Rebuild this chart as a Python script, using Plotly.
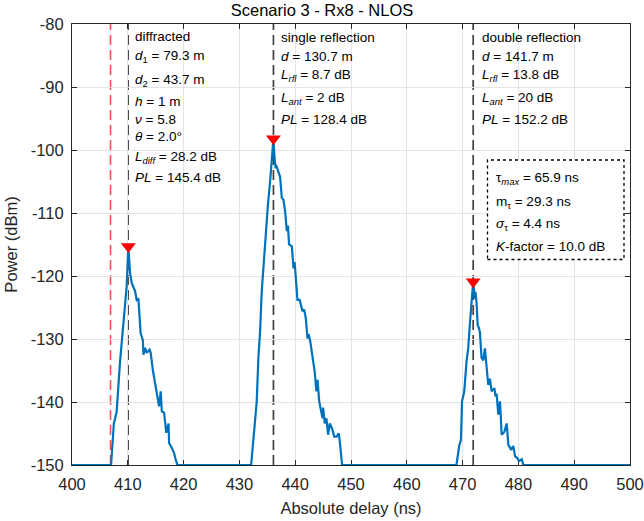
import plotly.graph_objects as go

# ---------------- data ----------------
delay_ns = [
    400.0, 407.0, 407.5, 408.0, 408.6, 409.2, 409.8, 410.1, 410.4, 410.7, 411.3, 411.6,
    411.9, 412.0, 412.3, 412.7, 412.8, 413.1, 413.4, 413.9, 414.1, 414.5, 414.9, 415.3,
    415.6, 415.9, 416.1, 416.5, 416.9, 417.3, 417.4, 417.9, 418.3, 418.5, 418.9,
    432.1, 432.7, 433.1, 433.4, 433.7, 434.0, 434.5, 434.7, 435.1, 435.5, 435.8, 436.1,
    436.3, 436.5, 436.6, 436.8, 437.3, 437.6, 437.9, 438.2, 438.5, 438.7, 438.9, 439.4,
    439.7, 439.9, 440.1, 440.4, 440.8, 441.3, 441.6, 441.9, 442.2, 442.4, 442.7, 443.0,
    443.2, 443.5, 443.8, 444.0, 444.3, 444.6, 444.9, 445.0, 445.3, 445.6, 445.9, 446.2,
    446.6, 447.0, 447.4, 447.8, 448.0, 448.4,
    468.9, 469.4, 469.7, 469.9, 470.3, 470.7, 471.0, 471.3, 471.6, 471.9, 472.2, 472.3,
    472.5, 472.7, 472.9, 473.1, 473.4, 473.7, 474.0, 474.3, 474.6, 474.9, 475.2, 475.7,
    475.9, 476.1, 476.4, 476.7, 477.0, 477.5, 477.9, 478.2, 478.7, 479.1, 479.4, 479.8,
    480.1, 480.6, 480.9, 500.0,
]
power_dbm = [
    -150.0, -150.0, -143.4, -141.6, -133.7, -127.4, -121.6, -115.3, -119.5, -121.1, -122.4, -123.8,
    -123.6, -124.9, -129.1, -130.2, -132.5, -131.4, -132.2, -131.7, -132.2, -135.0, -137.0, -139.1,
    -140.7, -138.3, -141.5, -141.7, -144.9, -143.4, -146.5, -147.3, -148.1, -148.9, -150.0,
    -150.0, -144.7, -140.0, -133.0, -128.9, -122.5, -115.6, -114.0, -108.8, -105.0, -101.9, -98.2,
    -101.3, -102.9, -102.4, -102.9, -104.3, -107.6, -107.9, -109.8, -112.9, -112.0, -115.0, -115.3,
    -118.8, -117.8, -119.8, -123.8, -123.8, -125.6, -125.3, -126.7, -129.9, -129.2, -130.4, -132.0,
    -133.4, -135.2, -138.3, -136.5, -139.9, -141.2, -142.6, -140.9, -143.4, -142.6, -145.2, -143.4,
    -144.2, -145.5, -145.5, -145.0, -146.3, -150.0,
    -150.0, -146.9, -146.0, -139.9, -138.3, -133.6, -131.5, -127.7, -124.6, -120.9, -123.6, -122.5,
    -124.2, -127.8, -128.2, -128.9, -133.0, -133.4, -131.5, -134.2, -137.3, -136.3, -138.3, -137.8,
    -139.1, -138.7, -142.0, -139.9, -145.2, -144.7, -143.4, -146.8, -147.6, -147.0, -148.6, -148.9,
    -149.4, -149.1, -150.0, -150.0,
]

peak_delay_ns = [410.1, 436.1, 471.9]
peak_power_dbm = [-115.3, -98.2, -120.9]

path_delay_ns = [410.05, 436.1, 471.9]    # black dashed lines
los_delay_ns = 406.9                       # red dashed line

x_ticks = [400, 410, 420, 430, 440, 450, 460, 470, 480, 490, 500]
x_tick_labels = ["400", "410", "420", "430", "440", "450", "460", "470", "480", "490", "500"]
y_ticks = [-150, -140, -130, -120, -110, -100, -90, -80]
y_tick_labels = ["-150", "-140", "-130", "-120", "-110", "-100", "-90", "-80"]

diffracted_lines = ["diffracted",
                    "<i>d</i><sub>1</sub> = 79.3 m",
                    "<i>d</i><sub>2</sub> = 43.7 m",
                    "<i>h</i> = 1 m",
                    "<i>ν</i> = 5.8",
                    "<i>θ</i> = 2.0°",
                    "<i>L</i><sub><i>diff</i></sub> = 28.2 dB",
                    "<i>PL</i> = 145.4 dB"]
single_lines = ["single reflection",
                "<i>d</i> = 130.7 m",
                "<i>L</i><sub><i>rfl</i></sub> = 8.7 dB",
                "<i>L</i><sub><i>ant</i></sub> = 2 dB",
                "<i>PL</i> = 128.4 dB"]
double_lines = ["double reflection",
                "<i>d</i> = 141.7 m",
                "<i>L</i><sub><i>rfl</i></sub> = 13.8 dB",
                "<i>L</i><sub><i>ant</i></sub> = 20 dB",
                "<i>PL</i> = 152.2 dB"]
stats_lines = ["τ<sub><i>max</i></sub> = 65.9 ns",
               "m<sub>τ</sub> = 29.3 ns",
               "<i>σ</i><sub>τ</sub> = 4.4 ns",
               "<i>K</i>-factor = 10.0 dB"]

# ---------------- layout geometry (pixels) ----------------
W, H = 644, 521
L, R, T, B = 72, 14, 24, 56
PW, PH = W - L - R, H - T - B
FONT = "Liberation Sans, Arial, Helvetica, sans-serif"


def px(xp):
    return (xp - L) / PW


def py(yp):
    return (H - B - yp) / PH


fig = go.Figure()
fig.add_trace(go.Scatter(x=delay_ns, y=power_dbm, mode="lines",
                         line=dict(color="#0072BD", width=2.2), showlegend=False))
fig.add_trace(go.Scatter(x=peak_delay_ns, y=peak_power_dbm, mode="markers",
                         marker=dict(symbol="triangle-down", size=13, color="#FF0000",
                                     line=dict(width=0)),
                         showlegend=False, cliponaxis=False))

shapes = []
shapes.append(dict(type="line", xref="x", yref="paper", x0=los_delay_ns, x1=los_delay_ns,
                   y0=0, y1=1, layer="below",
                   line=dict(color="#FF5050", width=1.6, dash="10px,5px")))
for d in path_delay_ns:
    shapes.append(dict(type="line", xref="x", yref="paper", x0=d, x1=d, y0=0, y1=1,
                       layer="below",
                       line=dict(color="#404040", width=1.7, dash="10px,5px")))
shapes.append(dict(type="rect", xref="paper", yref="paper",
                   x0=px(487.5), x1=px(624), y0=py(259.5), y1=py(160),
                   fillcolor="white", line=dict(color="black", width=1.3, dash="dot"),
                   layer="above"))

annotations = []


def add_lines(lines, xp, yps):
    for txt, yp in zip(lines, yps):
        annotations.append(dict(text=txt, xref="paper", yref="paper",
                                x=px(xp), y=py(yp), xanchor="left", yanchor="middle",
                                showarrow=False,
                                font=dict(family=FONT, size=13.5, color="black")))


add_lines(diffracted_lines, 133, [36.7, 57, 80, 101.7, 119.3, 136, 157, 177.7])
add_lines(single_lines, 279, [37.3, 56, 75, 98, 119.3])
add_lines(double_lines, 480, [37.3, 56, 75, 98, 119.3])
add_lines(stats_lines, 494, [178.5, 202.5, 224.5, 246])

fig.update_layout(
    width=W, height=H,
    margin=dict(l=L, r=R, t=T, b=B, autoexpand=False),
    paper_bgcolor="white", plot_bgcolor="white",
    font=dict(family=FONT, size=16.5, color="#262626"),
    title=dict(text="Scenario 3 - Rx8 - NLOS", x=px(351), xanchor="center",
               y=1 - 10 / H, yanchor="middle", yref="container",
               font=dict(family=FONT, size=16.5, color="black")),
    shapes=shapes, annotations=annotations,
    showlegend=False,
)
fig.update_xaxes(range=[400, 500], tickvals=x_ticks, ticktext=x_tick_labels,
                 ticks="inside", ticklen=5, automargin=False, ticklabelstandoff=4,
                 tickcolor="#262626", showline=True, linecolor="#262626", linewidth=1,
                 mirror="ticks", showgrid=True, gridcolor="#e3e3e3", gridwidth=1,
                 zeroline=False, layer="below traces",
                 title=dict(text="Absolute delay (ns)", standoff=10,
                            font=dict(size=16.5, color="#262626")),
                 tickfont=dict(size=16.5, color="#262626"))
fig.update_yaxes(range=[-150, -80], tickvals=y_ticks, ticktext=y_tick_labels,
                 ticks="inside", ticklen=5, automargin=False, ticklabelstandoff=4,
                 tickcolor="#262626", showline=True, linecolor="#262626", linewidth=1,
                 mirror="ticks", showgrid=True, gridcolor="#e3e3e3", gridwidth=1,
                 zeroline=False, layer="below traces",
                 title=dict(text="Power (dBm)", standoff=8,
                            font=dict(size=16.5, color="#262626")),
                 tickfont=dict(size=16.5, color="#262626"))

fig.write_html("out.html")
